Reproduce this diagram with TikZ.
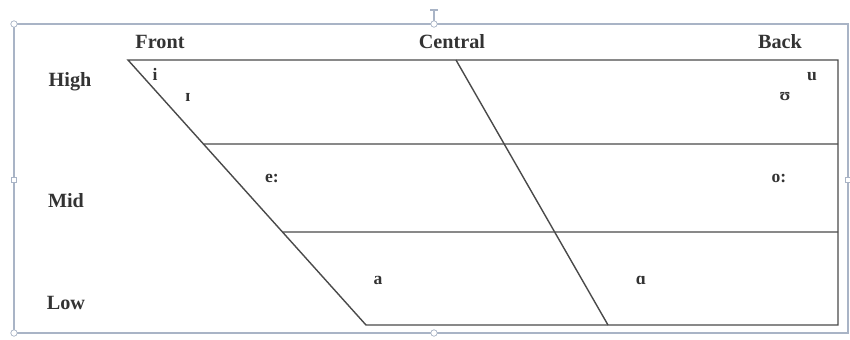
\documentclass[tikz,border=0pt]{standalone}
\usepackage{fontspec}
\setmainfont{Liberation Serif}
\usetikzlibrary{calc}
\definecolor{chartGrey}{HTML}{4A4A4A}
\definecolor{frameGrey}{HTML}{A9B4C6}

\begin{document}
\begin{tikzpicture}[
    x=0.02cm, y=-0.02cm,
    every node/.style={text=black!80, inner sep=1pt},
    axis label/.style={font=\fontsize{11.5}{13}\selectfont\bfseries},
    vowel/.style={font=\fontsize{10}{12}\selectfont\bfseries},
    chart line/.style={chartGrey, line width=0.8pt},
    round handle/.style={circle, draw=frameGrey, fill=white, inner sep=1.3pt},
    square handle/.style={rectangle, draw=frameGrey, fill=white, inner sep=1.3pt},
  ]
  \useasboundingbox (0,0) rectangle (850,339);

  % Selection frame
  \draw[frameGrey, line width=0.6pt] (14,24) rectangle (848,333);
  \draw[frameGrey, line width=0.6pt] (434,24) -- (434,10);
  \draw[frameGrey, line width=0.6pt] (430,10) -- (438,10);
  \node[round handle] (hA) at (14,24) {};
  \node[round handle] (hB) at (434,24) {};
  \node[round handle] (hC) at (14,333) {};
  \node[round handle] (hD) at (434,333) {};
  \node[square handle] (hE) at (14,180) {};
  \node[square handle] (hF) at (848,180) {};

  % Chart corners
  \coordinate (tl) at (128,60);
  \coordinate (tr) at (838,60);
  \coordinate (br) at (838,325);
  \coordinate (bl) at (366,325);
  \coordinate (ct) at (456,60);
  \coordinate (cb) at (608,325);
  \coordinate (m1) at ($(tl)!84/265!(bl)$);
  \coordinate (m2) at ($(tl)!172/265!(bl)$);
  \coordinate (r1) at (838,144);
  \coordinate (r2) at (838,232);

  % Trapezium and inner lines
  \draw[chart line] (tl) -- (tr) -- (br) -- (bl) -- cycle;
  \draw[chart line] (ct) -- (cb);
  \draw[chart line] (m1) -- (r1);
  \draw[chart line] (m2) -- (r2);

  % Column and row labels
  \node[axis label] (front) at (160,42) {Front};
  \node[axis label] (central) at (452,42) {Central};
  \node[axis label] (back) at (780,42) {Back};
  \node[axis label] (high) at (70,82) {High};
  \node[axis label] (mid) at (66,201) {Mid};
  \node[axis label] (low) at (66,303) {Low};

  % Vowels
  \node[vowel] (vi) at (155,74) {i};
  \node[vowel] (vI) at (188,97) {ɪ};
  \node[vowel] (ve) at (272,178) {e:};
  \node[vowel] (va) at (378,280) {a};
  \node[vowel] (vA) at (641,280) {ɑ};
  \node[vowel] (vo) at (779,178) {o:};
  \node[vowel] (vU) at (785,97) {ʊ};
  \node[vowel] (vu) at (812,77) {u};
\end{tikzpicture}
\end{document}
